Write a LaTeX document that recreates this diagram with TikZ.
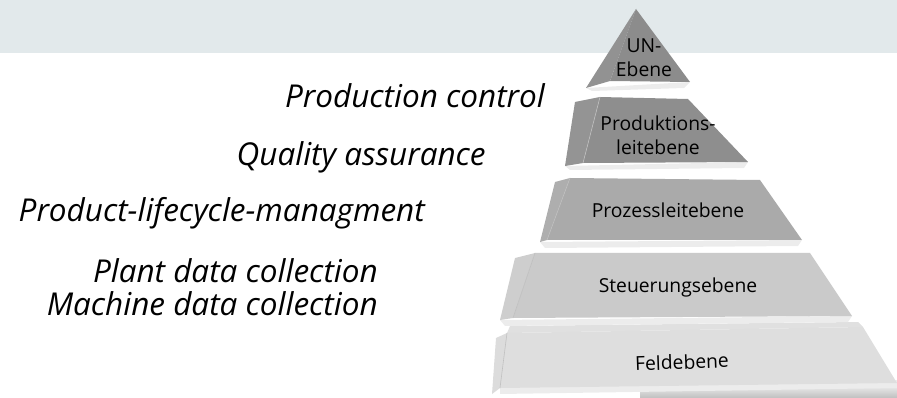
\documentclass[tikz,border=0pt]{standalone}
\usepackage{fontspec}
\setmainfont{Open Sans}
\definecolor{bandc}{RGB}{226,233,235}
\definecolor{fA}{RGB}{140,140,140}
\definecolor{sA}{RGB}{146,146,146}
\definecolor{fB}{RGB}{142,142,142}
\definecolor{sB}{RGB}{148,148,148}
\definecolor{fC}{RGB}{170,170,170}
\definecolor{sC}{RGB}{174,174,174}
\definecolor{fD}{RGB}{202,202,202}
\definecolor{sD}{RGB}{206,206,206}
\definecolor{fE}{RGB}{222,222,222}
\definecolor{sE}{RGB}{220,220,220}
\definecolor{lipc}{RGB}{236,236,236}
\begin{document}
\begin{tikzpicture}[x=1pt,y=-1pt,
  lbl/.style={font=\fontsize{31.5}{36}\selectfont\itshape, anchor=base east, inner sep=0pt},
  lvl/.style={font=\fontsize{19.3}{24}\selectfont, align=center, inner sep=0pt, text=black},
  lip/.style={fill=lipc},
  edge/.style={draw=white!75!black, line width=0.6pt}]
\useasboundingbox (0,0) rectangle (897,398);
% background band
\fill[bandc] (0,0) rectangle (897,53);
% shadow under base
\shade[top color=white, bottom color=black!25] (640,386) -- (897,380) -- (897,398) -- (640,398) -- cycle;
% layer 5 (Feldebene)
\fill[lipc] (500,394) -- (897,388) -- (897,380) -- (500,386) -- cycle;
\fill[black!12] (510,326) -- (858,322) -- (863,327) -- (507,333) -- cycle;
\fill[sE] (507,333) -- (496,338) -- (492,394) -- (500,388) -- cycle;
\fill[fE] (507,333) -- (863,327) -- (897,383) -- (500,388) -- cycle;
\draw[edge] (507,333) -- (500,388);
% layer 4 (Steuerungsebene)
\fill[lip] (500,320) -- (852,316) -- (848,322) -- (505,326) -- cycle;
\fill[sD] (535,253) -- (515,258) -- (500,320) -- (513,318) -- cycle;
\fill[fD] (535,253) -- (810,253) -- (852,316) -- (513,318) -- cycle;
\draw[edge] (535,253) -- (513,318);
% layer 3 (Prozessleitebene)
\fill[lip] (540,242) -- (802,240) -- (798,246) -- (545,248) -- cycle;
\fill[sC] (570,178) -- (555,182) -- (540,242) -- (547,240) -- cycle;
\fill[fC] (570,178) -- (760,180) -- (802,240) -- (547,240) -- cycle;
\draw[edge] (570,178) -- (547,240);
% layer 2 (Produktionsleitebene)
\fill[lip] (565,166) -- (748,162) -- (744,168) -- (570,170) -- cycle;
\fill[sB] (600,97) -- (575,102) -- (565,166) -- (583,163) -- cycle;
\fill[fB] (600,97) -- (688,99) -- (748,162) -- (583,163) -- cycle;
\draw[edge] (600,97) -- (583,163);
% layer 1 (UN-Ebene)
\fill[lip] (586,88) -- (690,82) -- (684,88) -- (592,91) -- cycle;
\fill[sA] (636,9) -- (586,88) -- (610,81) -- cycle;
\fill[fA] (636,9) -- (690,82) -- (610,81) -- cycle;
% level texts
\node[lvl] (un) at (644,58) {UN-\\Ebene};
\node[lvl] (pl) at (658,135) {Produktions-\\leitebene};
\node[lvl] (pz) at (668,210) {Prozessleitebene};
\node[lvl] (st) at (678,287) {Steuerungsebene};
\node[lvl, rotate=2] (fe) at (682,362) {Feldebene};
% side labels
\node[lbl] (pc) at (545,108) {Production control};
\node[lbl] (qa) at (486,166) {Quality assurance};
\node[lbl] (plm) at (425,222) {Product-lifecycle-managment};
\node[lbl] (pdc) at (378,282) {Plant data collection};
\node[lbl] (mdc) at (378,315) {Machine data collection};
\end{tikzpicture}
\end{document}
